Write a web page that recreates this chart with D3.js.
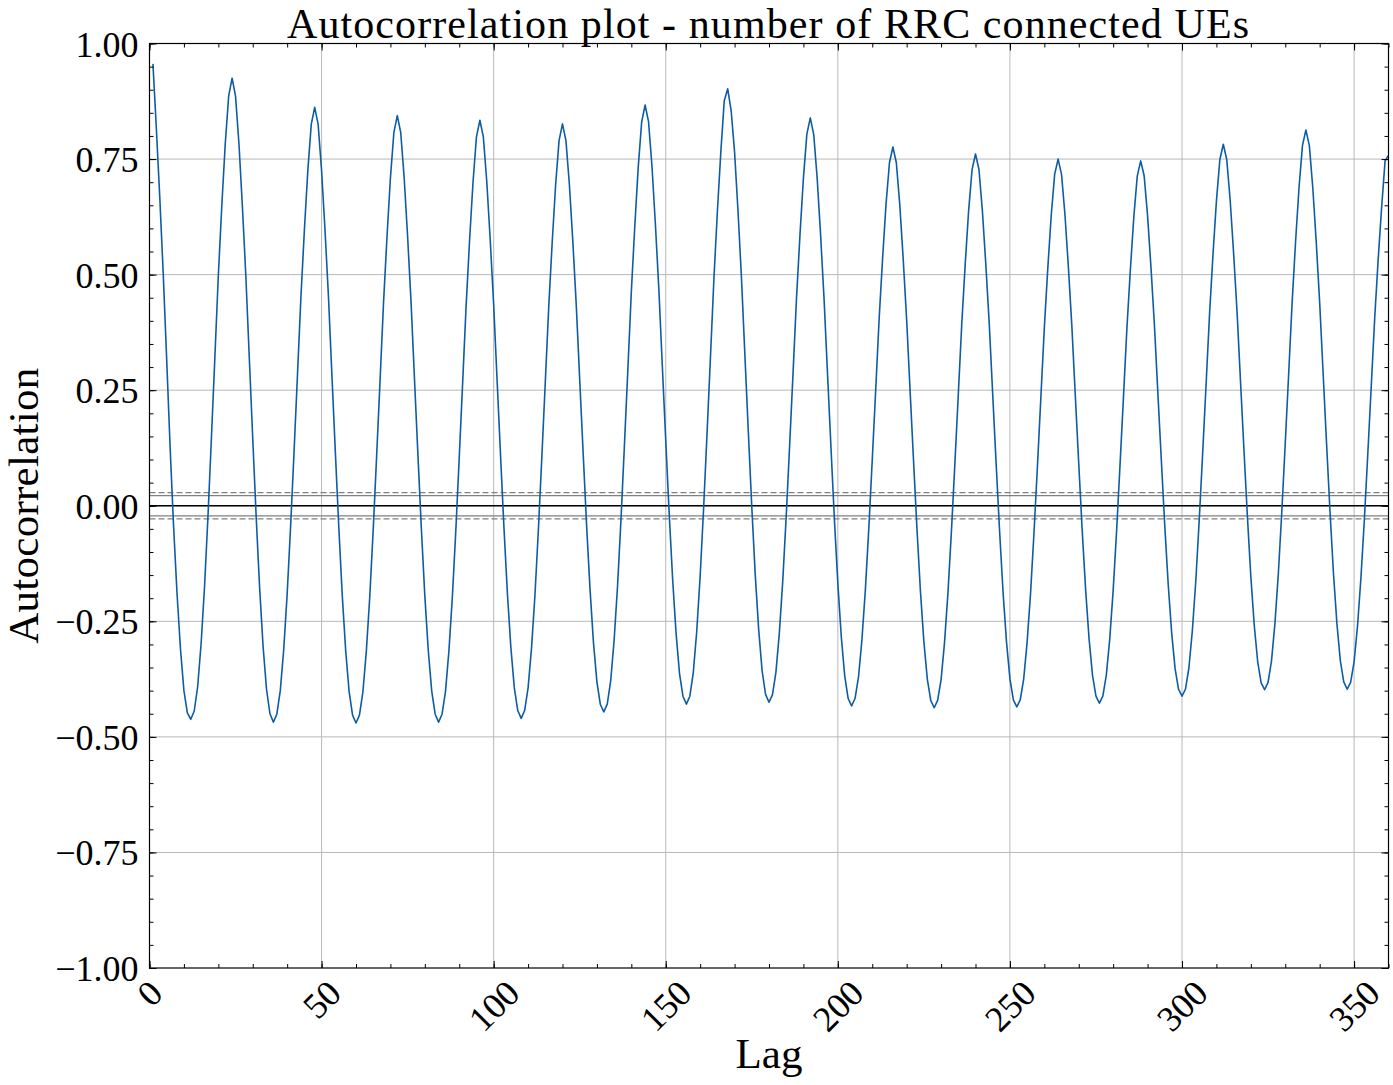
<!DOCTYPE html>
<html>
<head>
<meta charset="utf-8">
<script src="https://cdn.jsdelivr.net/npm/d3@7"></script>
<style>
  body { margin: 0; background: #fff; }
  svg { display: block; }
  text { font-family: "Liberation Serif", "DejaVu Serif", serif; fill: #000; }
</style>
</head>
<body>
<svg id="chart"></svg>
<script>
// Chart values
const xTicks = [0, 50, 100, 150, 200, 250, 300, 350];
const yTicks = [-1, -0.75, -0.5, -0.25, 0, 0.25, 0.5, 0.75, 1];
const yTickLabels = ["\u22121.00", "\u22120.75", "\u22120.50", "\u22120.25", "0.00", "0.25", "0.50", "0.75", "1.00"];
const band95 = 0.0217;   // solid grey lines
const band99 = 0.0285;   // dashed grey lines

// autocorrelation for lag 1 .. 360
const acf = [
  0.956, 0.815, 0.665, 0.500, 0.315, 0.125, -0.045, -0.190, -0.310, -0.400, -0.448, -0.462,
  -0.444, -0.391, -0.298, -0.174, -0.021, 0.148, 0.322, 0.498, 0.648, 0.782, 0.886, 0.925,
  0.886, 0.782, 0.646, 0.496, 0.319, 0.145, -0.025, -0.178, -0.304, -0.397, -0.450, -0.468,
  -0.451, -0.400, -0.311, -0.191, -0.045, 0.117, 0.284, 0.452, 0.596, 0.725, 0.825, 0.862,
  0.825, 0.725, 0.596, 0.452, 0.283, 0.116, -0.046, -0.193, -0.313, -0.402, -0.453, -0.470,
  -0.453, -0.403, -0.315, -0.197, -0.052, 0.108, 0.272, 0.439, 0.581, 0.709, 0.807, 0.844,
  0.807, 0.709, 0.582, 0.440, 0.273, 0.109, -0.051, -0.195, -0.313, -0.401, -0.451, -0.468,
  -0.451, -0.402, -0.314, -0.197, -0.054, 0.105, 0.268, 0.433, 0.574, 0.700, 0.798, 0.834,
  0.798, 0.701, 0.575, 0.435, 0.271, 0.109, -0.049, -0.191, -0.307, -0.394, -0.443, -0.460,
  -0.443, -0.394, -0.308, -0.193, -0.051, 0.106, 0.267, 0.430, 0.569, 0.694, 0.790, 0.826,
  0.790, 0.695, 0.572, 0.434, 0.273, 0.114, -0.042, -0.181, -0.296, -0.381, -0.430, -0.446,
  -0.429, -0.379, -0.291, -0.173, -0.029, 0.132, 0.296, 0.463, 0.604, 0.732, 0.830, 0.867,
  0.831, 0.734, 0.608, 0.468, 0.303, 0.141, -0.017, -0.159, -0.276, -0.363, -0.412, -0.429,
  -0.412, -0.361, -0.272, -0.152, -0.006, 0.157, 0.323, 0.492, 0.636, 0.765, 0.876, 0.902,
  0.855, 0.765, 0.637, 0.493, 0.325, 0.159, -0.003, -0.149, -0.268, -0.357, -0.408, -0.425,
  -0.409, -0.361, -0.276, -0.162, -0.023, 0.131, 0.289, 0.450, 0.586, 0.709, 0.804, 0.839,
  0.803, 0.708, 0.585, 0.447, 0.286, 0.127, -0.029, -0.168, -0.283, -0.368, -0.417, -0.433,
  -0.417, -0.371, -0.290, -0.182, -0.049, 0.099, 0.250, 0.404, 0.534, 0.652, 0.742, 0.776,
  0.742, 0.651, 0.533, 0.402, 0.248, 0.097, -0.051, -0.185, -0.294, -0.375, -0.421, -0.437,
  -0.421, -0.376, -0.296, -0.188, -0.056, 0.090, 0.240, 0.392, 0.521, 0.638, 0.727, 0.761,
  0.728, 0.638, 0.522, 0.393, 0.241, 0.091, -0.055, -0.186, -0.294, -0.374, -0.420, -0.435,
  -0.420, -0.375, -0.295, -0.189, -0.058, 0.086, 0.235, 0.385, 0.513, 0.628, 0.717, 0.750,
  0.717, 0.629, 0.515, 0.388, 0.238, 0.091, -0.053, -0.182, -0.288, -0.367, -0.412, -0.427,
  -0.412, -0.367, -0.289, -0.183, -0.054, 0.089, 0.236, 0.385, 0.511, 0.625, 0.713, 0.746,
  0.714, 0.627, 0.514, 0.389, 0.242, 0.098, -0.044, -0.171, -0.275, -0.353, -0.397, -0.412,
  -0.397, -0.351, -0.271, -0.164, -0.032, 0.113, 0.263, 0.414, 0.543, 0.659, 0.749, 0.782,
  0.749, 0.661, 0.546, 0.419, 0.269, 0.121, -0.023, -0.153, -0.259, -0.338, -0.383, -0.398,
  -0.382, -0.336, -0.255, -0.146, -0.013, 0.135, 0.286, 0.440, 0.571, 0.688, 0.779, 0.813,
  0.779, 0.688, 0.571, 0.440, 0.287, 0.135, -0.012, -0.145, -0.254, -0.335, -0.381, -0.397,
  -0.382, -0.338, -0.260, -0.155, -0.028, 0.114, 0.260, 0.407, 0.533, 0.645, 0.746, 0.758
];

// Layout
const width = 1393;
const height = 1085;
const plot = { left: 149.5, right: 1388.5, top: 43.5, bottom: 968 };

const svg = d3.select("#chart")
  .attr("width", width)
  .attr("height", height);

const x = d3.scaleLinear().domain([0, 360]).range([plot.left, plot.right]);
const y = d3.scaleLinear().domain([-1, 1]).range([plot.bottom, plot.top]);

// Grid
const grid = svg.append("g");
grid.selectAll("line.gx")
  .data(xTicks.filter(d => d > 0))
  .enter().append("line")
  .attr("x1", d => x(d)).attr("x2", d => x(d))
  .attr("y1", plot.top).attr("y2", plot.bottom)
  .attr("stroke", "#b8b8b8").attr("stroke-width", 1);
grid.selectAll("line.gy")
  .data(yTicks.filter(d => d > -1 && d < 1))
  .enter().append("line")
  .attr("x1", plot.left).attr("x2", plot.right)
  .attr("y1", d => y(d)).attr("y2", d => y(d))
  .attr("stroke", "#b8b8b8").attr("stroke-width", 1);

// Clip for the data
svg.append("clipPath").attr("id", "clip")
  .append("rect")
  .attr("x", plot.left).attr("y", plot.top)
  .attr("width", plot.right - plot.left).attr("height", plot.bottom - plot.top);

const inner = svg.append("g").attr("clip-path", "url(#clip)");

// Confidence band lines
[band99, -band99].forEach(v => {
  inner.append("line")
    .attr("x1", plot.left).attr("x2", plot.right)
    .attr("y1", y(v)).attr("y2", y(v))
    .attr("stroke", "#808080").attr("stroke-width", 1.3)
    .attr("stroke-dasharray", "6,3");
});
[band95, -band95].forEach(v => {
  inner.append("line")
    .attr("x1", plot.left).attr("x2", plot.right)
    .attr("y1", y(v)).attr("y2", y(v))
    .attr("stroke", "#808080").attr("stroke-width", 1.3);
});
inner.append("line")
  .attr("x1", plot.left).attr("x2", plot.right)
  .attr("y1", y(0)).attr("y2", y(0))
  .attr("stroke", "#000").attr("stroke-width", 1.3);

// ACF line
const line = d3.line()
  .x((d, i) => x(i + 1))
  .y(d => y(d));

inner.append("path")
  .datum(acf)
  .attr("d", line)
  .attr("fill", "none")
  .attr("stroke", "#0C5DA5")
  .attr("stroke-width", 1.6)
  .attr("stroke-linejoin", "round");

// Tick marks, inward on all four sides
const xMinor = d3.range(0, 361, 10);
const yMinor = d3.range(-1, 1.0001, 0.05);

function tickMarks(axis, values, size, transform) {
  svg.append("g")
    .attr("transform", transform)
    .call(axis.tickValues(values).tickSize(size).tickFormat(""))
    .call(g => g.select(".domain").remove())
    .call(g => g.selectAll(".tick line").attr("stroke", "#000").attr("stroke-width", 1));
}
tickMarks(d3.axisBottom(x), xMinor, -4, `translate(0,${plot.bottom})`);
tickMarks(d3.axisBottom(x), xTicks, -7, `translate(0,${plot.bottom})`);
tickMarks(d3.axisTop(x), xMinor, -4, `translate(0,${plot.top})`);
tickMarks(d3.axisTop(x), xTicks, -7, `translate(0,${plot.top})`);
tickMarks(d3.axisLeft(y), yMinor, -4, `translate(${plot.left},0)`);
tickMarks(d3.axisLeft(y), yTicks, -7, `translate(${plot.left},0)`);
tickMarks(d3.axisRight(y), yMinor, -4, `translate(${plot.right},0)`);
tickMarks(d3.axisRight(y), yTicks, -7, `translate(${plot.right},0)`);

// Frame
svg.append("rect")
  .attr("x", plot.left).attr("y", plot.top)
  .attr("width", plot.right - plot.left).attr("height", plot.bottom - plot.top)
  .attr("fill", "none").attr("stroke", "#000").attr("stroke-width", 1.2);

// Y tick labels
svg.selectAll("text.ylab")
  .data(yTicks)
  .enter().append("text")
  .attr("x", plot.left - 11)
  .attr("y", d => y(d) + 13)
  .attr("text-anchor", "end")
  .attr("font-size", 36)
  .text((d, i) => yTickLabels[i]);

// X tick labels, rotated 45 degrees
const xLabels = svg.selectAll("text.xlab")
  .data(xTicks)
  .enter().append("text")
  .attr("text-anchor", "middle")
  .attr("font-size", 36)
  .text(d => d);
xLabels.each(function(d) {
  const w = this.getComputedTextLength();
  const h = 24;
  const cy = plot.bottom + 10 + (w + h) / (2 * Math.SQRT2);
  d3.select(this)
    .attr("transform", `translate(${x(d)},${cy}) rotate(-45)`)
    .attr("dy", "0.35em");
});

// Titles
svg.append("text")
  .attr("x", 768)
  .attr("y", 37.5)
  .attr("text-anchor", "middle")
  .attr("font-size", 42)
  .attr("textLength", 962)
  .attr("lengthAdjust", "spacing")
  .text("Autocorrelation plot - number of RRC connected UEs");

svg.append("text")
  .attr("x", (plot.left + plot.right) / 2)
  .attr("y", 1068)
  .attr("text-anchor", "middle")
  .attr("font-size", 43)
  .text("Lag");

svg.append("text")
  .attr("transform", `translate(38,${(plot.top + plot.bottom) / 2}) rotate(-90)`)
  .attr("text-anchor", "middle")
  .attr("font-size", 43)
  .attr("textLength", 276)
  .attr("lengthAdjust", "spacing")
  .text("Autocorrelation");
</script>
</body>
</html>
